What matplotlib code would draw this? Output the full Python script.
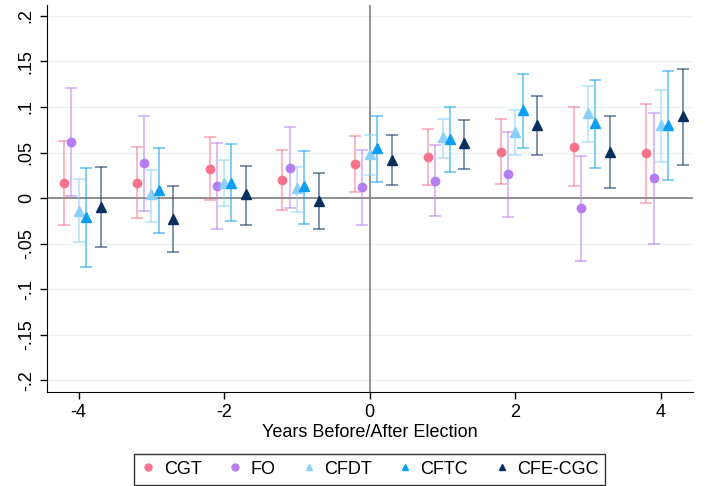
import matplotlib.pyplot as plt
from matplotlib.lines import Line2D
import numpy as np

plt.rcParams['font.family'] = ['Liberation Sans', 'DejaVu Sans']

years = [-4, -3, -2, -1, 0, 1, 2, 3, 4]
unions = ["CGT", "FO", "CFDT", "CFTC", "CFE-CGC"]

# point estimates
cgt = [0.017, 0.017, 0.032, 0.020, 0.037, 0.045, 0.051, 0.056, 0.050]
fo = [0.062, 0.038, 0.013, 0.033, 0.012, 0.019, 0.026, -0.011, 0.022]
cfdt = [-0.014, 0.004, 0.017, 0.011, 0.048, 0.067, 0.073, 0.093, 0.080]
cftc = [-0.021, 0.009, 0.017, 0.013, 0.055, 0.065, 0.097, 0.082, 0.080]
cfe = [-0.010, -0.023, 0.004, -0.003, 0.042, 0.060, 0.080, 0.051, 0.090]

# upper / lower confidence bounds
cgt_hi = [0.063, 0.056, 0.067, 0.053, 0.068, 0.076, 0.087, 0.100, 0.103]
cgt_lo = [-0.029, -0.022, -0.002, -0.013, 0.007, 0.014, 0.015, 0.013, -0.005]
fo_hi = [0.121, 0.090, 0.060, 0.078, 0.053, 0.058, 0.072, 0.046, 0.093]
fo_lo = [0.002, -0.014, -0.034, -0.011, -0.029, -0.020, -0.021, -0.069, -0.050]
cfdt_hi = [0.021, 0.031, 0.042, 0.034, 0.069, 0.087, 0.097, 0.123, 0.119]
cfdt_lo = [-0.048, -0.026, -0.009, -0.015, 0.025, 0.044, 0.047, 0.062, 0.040]
cftc_hi = [0.033, 0.055, 0.059, 0.052, 0.090, 0.100, 0.136, 0.130, 0.139]
cftc_lo = [-0.076, -0.038, -0.025, -0.028, 0.018, 0.029, 0.055, 0.033, 0.020]
cfe_hi = [0.034, 0.013, 0.035, 0.027, 0.069, 0.086, 0.112, 0.090, 0.142]
cfe_lo = [-0.054, -0.059, -0.029, -0.034, 0.014, 0.032, 0.047, 0.011, 0.036]

offsets = [-0.2, -0.1, 0.0, 0.1, 0.3]
colors = ["#f9728c", "#b67cf4", "#8ad0fa", "#0a9ff3", "#0a2f5c"]
markers = ["o", "o", "^", "^", "^"]

est = [cgt, fo, cfdt, cftc, cfe]
his = [cgt_hi, fo_hi, cfdt_hi, cftc_hi, cfe_hi]
los = [cgt_lo, fo_lo, cfdt_lo, cftc_lo, cfe_lo]

fig = plt.figure(figsize=(7.07, 4.86), dpi=100)
ax = fig.add_axes([0.066, 0.193, 0.914, 0.797])

for yv in np.arange(-0.2, 0.21, 0.05):
    ax.axhline(yv, color="#eef2f4", lw=1, zorder=0)
ax.axhline(0, color="#888888", lw=1.3, zorder=1)
ax.axvline(0, color="#888888", lw=1.3, zorder=1)

handles = []
for i in range(5):
    x = np.array(years) + offsets[i]
    y = np.array(est[i])
    err = [y - np.array(los[i]), np.array(his[i]) - y]
    ax.errorbar(x, y, yerr=err, fmt="none", ecolor=colors[i], alpha=0.6,
                elinewidth=1.2, capsize=4, capthick=1.2, zorder=2)
    ax.plot(x, y, linestyle="none", marker=markers[i], color=colors[i],
            markersize=6 if markers[i] == "o" else 7, zorder=3)
    handles.append(Line2D([], [], linestyle="none", marker=markers[i],
                          color=colors[i], markersize=5))

ax.set_xlim(-4.44, 4.44)
ax.set_ylim(-0.213, 0.212)
ax.set_xticks([-4, -2, 0, 2, 4])
ax.set_xticklabels(["-4", "-2", "0", "2", "4"])
yt = [-0.2, -0.15, -0.1, -0.05, 0, 0.05, 0.1, 0.15, 0.2]
ax.set_yticks(yt)
ax.set_yticklabels(["-.2", "-.15", "-.1", "-.05", "0", ".05", ".1", ".15", ".2"],
                   rotation=90, va="center")
ax.tick_params(labelsize=13, length=5, width=1)
ax.spines["top"].set_visible(False)
ax.spines["right"].set_visible(False)
ax.set_xlabel("Years Before/After Election", fontsize=13, labelpad=2)

leg = ax.legend(handles, unions, loc="upper center", bbox_to_anchor=(0.5, -0.145),
                ncol=5, frameon=True, fontsize=13, handlelength=0.8,
                handletextpad=0.45, columnspacing=1.45, fancybox=False,
                borderpad=0.38, borderaxespad=0.3)
leg.get_frame().set_edgecolor("black")
leg.get_frame().set_linewidth(1)

fig.savefig("out.png", dpi=100)
